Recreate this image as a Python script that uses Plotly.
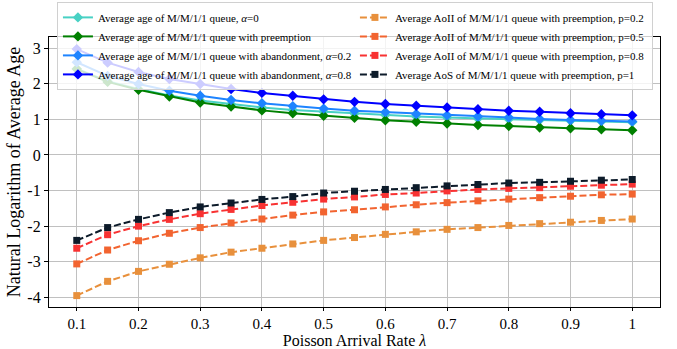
import plotly.graph_objects as go

lam = [0.1, 0.15, 0.2, 0.25, 0.3, 0.35, 0.4, 0.45, 0.5, 0.55, 0.6, 0.65, 0.7, 0.75, 0.8, 0.85, 0.9, 0.95, 1.0]

age_alpha0 = [2.42, 2.07, 1.85, 1.67, 1.53, 1.42, 1.33, 1.26, 1.21, 1.16, 1.12, 1.08, 1.05, 1.02, 1.00, 0.98, 0.96, 0.94, 0.92]
age_preempt = [2.41, 2.05, 1.83, 1.64, 1.47, 1.36, 1.25, 1.17, 1.10, 1.04, 0.97, 0.93, 0.88, 0.84, 0.81, 0.77, 0.75, 0.72, 0.69]
age_alpha02 = [2.60, 2.22, 1.99, 1.80, 1.66, 1.54, 1.45, 1.37, 1.30, 1.24, 1.20, 1.15, 1.11, 1.08, 1.05, 1.01, 0.98, 0.96, 0.94]
age_alpha08 = [2.97, 2.59, 2.33, 2.13, 1.99, 1.85, 1.74, 1.66, 1.56, 1.49, 1.43, 1.38, 1.33, 1.28, 1.24, 1.21, 1.17, 1.14, 1.11]
aoii_p02 = [-3.95, -3.55, -3.27, -3.07, -2.89, -2.73, -2.62, -2.50, -2.40, -2.32, -2.23, -2.16, -2.09, -2.04, -1.98, -1.93, -1.89, -1.84, -1.80]
aoii_p05 = [-3.06, -2.67, -2.41, -2.20, -2.04, -1.91, -1.80, -1.69, -1.60, -1.54, -1.46, -1.40, -1.34, -1.29, -1.24, -1.20, -1.16, -1.12, -1.10]
aoii_p08 = [-2.62, -2.24, -2.00, -1.81, -1.65, -1.53, -1.42, -1.33, -1.24, -1.18, -1.11, -1.07, -1.01, -0.97, -0.94, -0.92, -0.88, -0.85, -0.82]
aos_p1 = [-2.40, -2.04, -1.81, -1.62, -1.46, -1.35, -1.25, -1.17, -1.07, -1.02, -0.97, -0.92, -0.87, -0.83, -0.79, -0.77, -0.74, -0.71, -0.69]

x_tickvals = [0.1, 0.2, 0.3, 0.4, 0.5, 0.6, 0.7, 0.8, 0.9, 1.0]
x_ticktext = ["0.1", "0.2", "0.3", "0.4", "0.5", "0.6", "0.7", "0.8", "0.9", "1"]
y_tickvals = [-4, -3, -2, -1, 0, 1, 2, 3]
y_ticktext = ["-4", "-3", "-2", "-1", "0", "1", "2", "3"]

series = [
    ("Average age of M/M/1/1 queue, <i>α</i>=0", age_alpha0, "#48D1C4", "diamond", "solid", 1),
    ("Average age of M/M/1/1 queue with preemption", age_preempt, "#008000", "diamond", "solid", 3),
    ("Average age of M/M/1/1 queue with abandonment, <i>α</i>=0.2", age_alpha02, "#1E84FF", "diamond", "solid", 5),
    ("Average age of M/M/1/1 queue with abandonment, <i>α</i>=0.8", age_alpha08, "#0000FF", "diamond", "solid", 7),
    ("Average AoII of M/M/1/1 queue with preemption, p=0.2", aoii_p02, "#E8903C", "square", "7px,3px", 2),
    ("Average AoII of M/M/1/1 queue with preemption, p=0.5", aoii_p05, "#F26430", "square", "7px,3px", 4),
    ("Average AoII of M/M/1/1 queue with preemption, p=0.8", aoii_p08, "#F83232", "square", "7px,3px", 6),
    ("Average AoS of M/M/1/1 queue with preemption, p=1", aos_p1, "#0D1B2A", "square", "7px,3px", 8),
]

fig = go.Figure()
for name, vals, color, sym, dash, rank in series:
    fig.add_trace(go.Scatter(
        x=lam, y=vals, name=name, mode="lines+markers",
        line=dict(color=color, width=2, dash=dash),
        marker=dict(symbol=sym, size=8 if sym == "diamond" else 7, color=color),
        legendrank=rank,
    ))

font_family = "Liberation Serif, Times New Roman, serif"
fig.update_layout(
    width=677, height=349,
    margin=dict(l=49, r=17, t=37, b=42, autoexpand=False),
    paper_bgcolor="white", plot_bgcolor="white",
    font=dict(family=font_family, color="black"),
    showlegend=True,
    legend=dict(
        orientation="h", xref="paper", yref="paper",
        x=0.013, y=1.13, xanchor="left", yanchor="top",
        entrywidth=252, entrywidthmode="pixels",
        bgcolor="rgba(255,255,255,0.8)", bordercolor="#d0d0d0", borderwidth=1,
        font=dict(family=font_family, size=11, color="black"),
        itemwidth=30, tracegroupgap=0,
    ),
    xaxis=dict(
        range=[0.055, 1.045], tickvals=x_tickvals, ticktext=x_ticktext,
        showgrid=True, gridcolor="#c0c0c0", gridwidth=1,
        showline=True, linecolor="black", linewidth=1.2, mirror=True,
        ticks="outside", ticklen=3, tickcolor="black", zeroline=False,
        tickfont=dict(size=15, family=font_family),
        title=dict(text="Poisson Arrival Rate <i>λ</i>", font=dict(size=16, family=font_family), standoff=3),
    ),
    yaxis=dict(
        range=[-4.27, 3.31], tickvals=y_tickvals, ticktext=y_ticktext,
        showgrid=True, gridcolor="#c0c0c0", gridwidth=1,
        showline=True, linecolor="black", linewidth=1.2, mirror=True,
        ticks="outside", ticklen=4, tickcolor="black", zeroline=False,
        tickfont=dict(size=16, family=font_family),
        title=dict(text="Natural Logarithm of Average Age", font=dict(size=18, family=font_family), standoff=2),
    ),
)

fig.write_html(
    "out.html",
    config={"displayModeBar": False},
    post_script="document.body.style.margin='0';document.body.style.overflow='hidden';",
)
